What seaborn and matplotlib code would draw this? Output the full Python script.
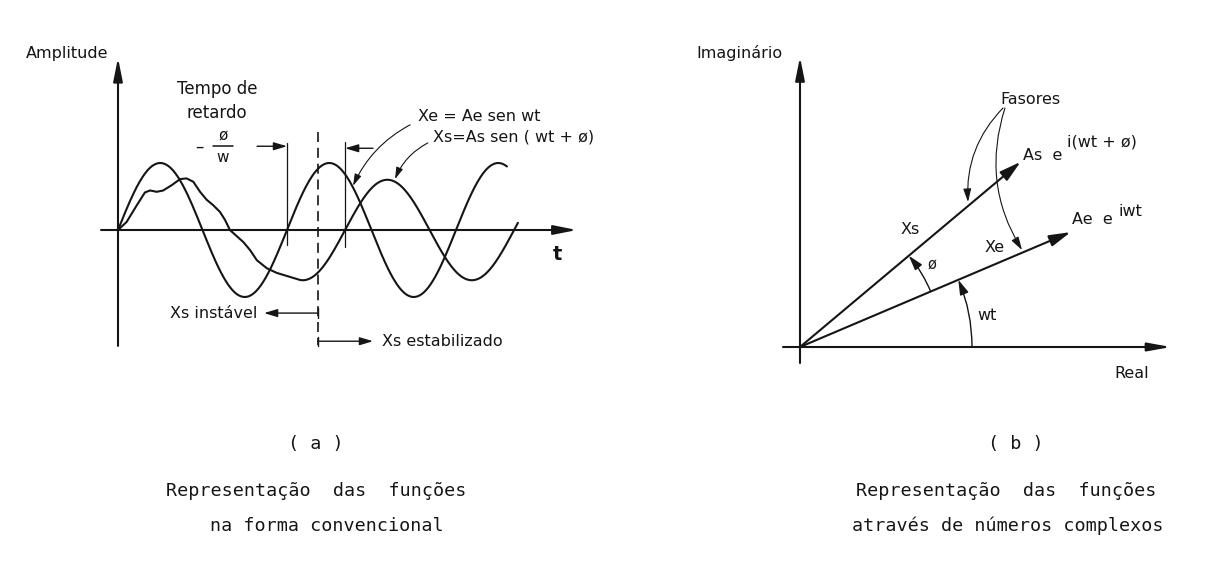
import numpy as np
import pandas as pd
import matplotlib
matplotlib.use("Agg")
import matplotlib.pyplot as plt
import seaborn as sns

# ---------------------------------------------------------------------------
# (a) time-domain functions (wt in rad, amplitude relative to Ae)
amp_in = 1.0            # Ae
amp_out = 0.75          # As
phase = -2.16           # ø (rad)
xe_end = 14.46          # last wt drawn for Xe
xs_end = 14.87          # last wt drawn for Xs

# Xs while still unstable (hand-traced transient)
xs_transient_wt = [0.00, 0.32, 0.70, 1.00, 1.19, 1.44, 1.68, 2.00, 2.31, 2.55,
                   2.80, 3.05, 3.30, 3.54, 3.79, 3.98, 4.16, 4.41, 4.66, 4.91,
                   5.16, 5.53, 5.90, 6.39]
xs_transient_amp = [0.00, 0.12, 0.37, 0.56, 0.59, 0.57, 0.59, 0.67, 0.76, 0.77,
                    0.72, 0.57, 0.45, 0.37, 0.27, 0.15, 0.00, -0.09, -0.18, -0.30,
                    -0.45, -0.57, -0.64, -0.70]
xs_steady_start = 6.77   # wt where Xs follows As sen(wt + ø)
boundary_wt = 7.43       # dashed line: unstable | stabilized

# (b) phasors: magnitude and angle (deg)
phasor_names = ["Ae e", "As e"]
phasor_mag = [2.94, 2.88]
phasor_angle = [23.0, 40.0]

INK = "#151515"

sns.set_theme(style="white")
plt.rcParams["font.family"] = ["DejaVu Sans"]

W, H = 1214, 573
fig = plt.figure(figsize=(W / 100, H / 100), dpi=100)
fig.patch.set_facecolor("white")


def rect(x0, x1, y_top, y_bot):
    return [x0 / W, 1 - y_bot / H, (x1 - x0) / W, (y_bot - y_top) / H]


def arrow(ax, start, end, lw=1.5, scale=12, hw=0.25, rad=0.0):
    ax.annotate("", xy=end, xytext=start, annotation_clip=False,
                arrowprops=dict(arrowstyle=f"-|>,head_length=1,head_width={hw}",
                                mutation_scale=scale, lw=lw, color=INK,
                                shrinkA=0, shrinkB=0,
                                connectionstyle=f"arc3,rad={rad}"))


# ---------------------------------------------------------------- panel (a)
px_rad = 169 / (2 * np.pi)
px_amp = 67
ox, oy = 118, 230
xl, yl = (-0.7, 17.1), (-1.8, 2.7)
axL = fig.add_axes(rect(ox + xl[0] * px_rad, ox + xl[1] * px_rad,
                        oy - yl[1] * px_amp, oy - yl[0] * px_amp))
axL.set_xlim(*xl)
axL.set_ylim(*yl)
axL.axis("off")

wt_e = np.linspace(0, xe_end, 400)
df_e = pd.DataFrame({"wt": wt_e, "amp": amp_in * np.sin(wt_e)})
wt_s = np.linspace(xs_steady_start, xs_end, 300)
df_s = pd.DataFrame({
    "wt": np.concatenate([xs_transient_wt, wt_s]),
    "amp": np.concatenate([xs_transient_amp, amp_out * np.sin(wt_s + phase)]),
})
for df in (df_e, df_s):
    sns.lineplot(data=df, x="wt", y="amp", ax=axL, color=INK, lw=1.5,
                 sort=False, estimator=None, clip_on=False)

# axes with arrow heads
arrow(axL, (0, -1.73), (0, 2.57), lw=1.5, scale=14, hw=0.2)
arrow(axL, (-0.63, 0), (17.06, 0), lw=1.5, scale=14, hw=0.2)
axL.text(16.32, -0.36, "t", fontsize=14, fontweight="bold", ha="center", va="center", color=INK)
axL.text(-0.37, 2.64, "Amplitude", fontsize=11.5, ha="right", va="center", color=INK)

# delay markers
t_zero_e = 2 * np.pi
t_zero_s = 2 * np.pi - phase
axL.plot([t_zero_e, t_zero_e], [1.30, -0.22], color=INK, lw=0.9, clip_on=False)
axL.plot([t_zero_s, t_zero_s], [1.31, -0.25], color=INK, lw=0.9, clip_on=False)
axL.plot([boundary_wt, boundary_wt], [1.46, -1.72], color=INK, lw=1.2,
         ls=(0, (6, 3.5)), clip_on=False)
arrow(axL, (5.17, 1.25), (t_zero_e, 1.25), lw=1.0, scale=8, hw=0.3)
arrow(axL, (9.48, 1.22), (t_zero_s, 1.22), lw=1.0, scale=8, hw=0.3)

axL.text(3.68, 2.10, "Tempo de", fontsize=12, ha="center", va="center", color=INK)
axL.text(3.68, 1.75, "retardo", fontsize=12, ha="center", va="center", color=INK)
axL.text(3.01, 1.25, "–", fontsize=12, ha="center", va="center", color=INK)
axL.text(3.90, 1.40, "ø", fontsize=11, ha="center", va="center", color=INK)
axL.text(3.90, 1.08, "w", fontsize=11, ha="center", va="center", color=INK)
axL.plot([3.53, 4.28], [1.25, 1.25], color=INK, lw=1.1, clip_on=False)

# unstable / stabilized
for y, end in ((-1.24, 5.43), (-1.66, 9.48)):
    axL.plot([boundary_wt, boundary_wt], [y + 0.07, y - 0.07], color=INK, lw=1.0)
    arrow(axL, (boundary_wt, y), (end, y), lw=1.0, scale=8, hw=0.3)
axL.text(5.17, -1.25, "Xs instável", fontsize=11.5, ha="right", va="center", color=INK)
axL.text(9.81, -1.66, "Xs estabilizado", fontsize=11.5, ha="left", va="center", color=INK)

# function labels with pointers
axL.text(11.15, 1.69, "Xe = Ae sen wt", fontsize=11.5, ha="left", va="center", color=INK)
axL.text(11.71, 1.39, "Xs=As sen ( wt + ø)", fontsize=11.5, ha="left", va="center", color=INK)
arrow(axL, (10.86, 1.57), (8.74, 0.66), lw=0.8, scale=7, hw=0.3, rad=0.17)
arrow(axL, (11.52, 1.30), (10.30, 0.76), lw=0.8, scale=7, hw=0.3, rad=0.18)

# ---------------------------------------------------------------- panel (b)
axR = fig.add_axes(rect(780, 1175, 52, 367))
axR.set_xlim(-0.2, 3.75)
axR.set_ylim(-0.2, 2.95)
axR.axis("off")

arrow(axR, (0, -0.16), (0, 2.90), lw=1.5, scale=14, hw=0.2)
arrow(axR, (-0.17, 0), (3.71, 0), lw=1.5, scale=14, hw=0.18)

ang = np.deg2rad(phasor_angle)
tips = [(m * np.cos(a), m * np.sin(a)) for m, a in zip(phasor_mag, ang)]
for tip in tips:
    arrow(axR, (0, 0), tip, lw=1.5, scale=13, hw=0.27)

# angle arcs: wt from the real axis to Xe, ø from Xe to Xs
r_wt, r_phi = 1.72, 1.42
arrow(axR, (r_wt, 0), (r_wt * np.cos(ang[0]), r_wt * np.sin(ang[0])),
      lw=1.0, scale=9, hw=0.3, rad=np.tan(ang[0] / 4))
arrow(axR, (r_phi * np.cos(ang[0]), r_phi * np.sin(ang[0])),
      (r_phi * np.cos(ang[1]), r_phi * np.sin(ang[1])),
      lw=1.0, scale=9, hw=0.3, rad=np.tan((ang[1] - ang[0]) / 4))

# pointers from "Fasores"
arrow(axR, (2.03, 2.39), (1.68, 1.45), lw=0.8, scale=8, hw=0.3, rad=0.22)
arrow(axR, (2.05, 2.39), (2.22, 0.97), lw=0.8, scale=8, hw=0.3, rad=0.23)

axR.text(-0.18, 2.94, "Imaginário", fontsize=11.5, ha="right", va="center", color=INK)
axR.text(3.32, -0.26, "Real", fontsize=11.5, ha="center", va="center", color=INK)
axR.text(2.30, 2.48, "Fasores", fontsize=11.5, ha="center", va="center", color=INK)
axR.text(1.10, 1.17, "Xs", fontsize=11.5, ha="center", va="center", color=INK)
axR.text(1.95, 1.00, "Xe", fontsize=11.5, ha="center", va="center", color=INK)
axR.text(1.32, 0.82, "ø", fontsize=10.5, ha="center", va="center", color=INK)
axR.text(1.87, 0.32, "wt", fontsize=11.5, ha="center", va="center", color=INK)
axR.text(2.72, 1.27, phasor_names[0].replace(" ", "  "), fontsize=11.5, ha="left", va="center", color=INK)
axR.text(3.19, 1.35, "iwt", fontsize=11.5, ha="left", va="center", color=INK)
axR.text(2.23, 1.92, phasor_names[1].replace(" ", "  "), fontsize=11.5, ha="left", va="center", color=INK)
axR.text(2.67, 2.05, "i(wt + ø)", fontsize=11.5, ha="left", va="center", color=INK)

# ---------------------------------------------------------------- captions
cap = dict(fontsize=13.2, family="DejaVu Sans Mono", ha="center", va="center", color=INK)
fig.text(316 / W, 1 - 444 / H, "( a )", **cap)
fig.text(316 / W, 1 - 491 / H, "Representação  das  funções", **cap)
fig.text(327 / W, 1 - 526 / H, "na forma convencional", **cap)
fig.text(1016 / W, 1 - 444 / H, "( b )", **cap)
fig.text(1006 / W, 1 - 491 / H, "Representação  das  funções", **cap)
fig.text(1008 / W, 1 - 526 / H, "através de números complexos", **cap)

fig.savefig("out.png", dpi=100, facecolor="white")
